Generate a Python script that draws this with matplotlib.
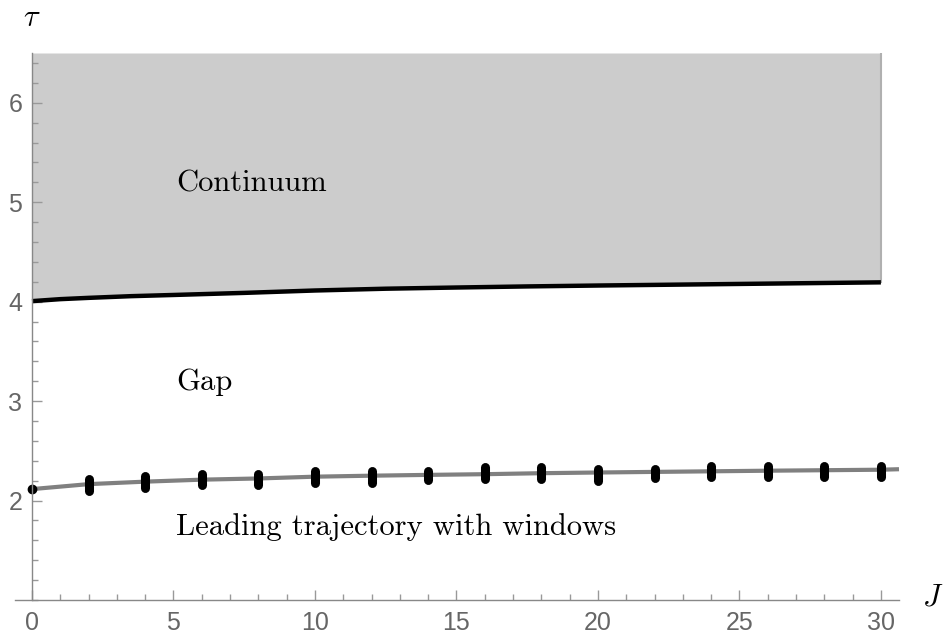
import numpy as np
import matplotlib
matplotlib.use("Agg")
import matplotlib.pyplot as plt
from matplotlib.ticker import MultipleLocator

# ---- data ----
cont_J = [0, 1, 2, 3.5, 5, 7.5, 10, 12.5, 15, 17.5, 20, 22.5, 25, 27.5, 30]
cont_tau = [4.005, 4.025, 4.038, 4.055, 4.067, 4.088, 4.112, 4.13, 4.142, 4.153,
            4.162, 4.17, 4.178, 4.186, 4.194]

lead_J = [0, 2, 4, 6, 8, 10, 12, 14, 16, 18, 20, 22, 24, 26, 28, 30, 30.64]
lead_tau = [2.115, 2.165, 2.19, 2.21, 2.222, 2.24, 2.25, 2.258, 2.265, 2.275,
            2.282, 2.288, 2.294, 2.30, 2.305, 2.31, 2.315]

win_J = [2, 4, 6, 8, 10, 12, 14, 16, 18, 20, 22, 24, 26, 28, 30]
win_lo = [2.10, 2.13, 2.155, 2.155, 2.18, 2.18, 2.21, 2.215, 2.215, 2.20, 2.225,
          2.24, 2.24, 2.24, 2.24]
win_hi = [2.22, 2.245, 2.27, 2.27, 2.30, 2.30, 2.30, 2.335, 2.335, 2.32, 2.32,
          2.35, 2.35, 2.35, 2.35]

point_J = [0]
point_tau = [2.115]

x_ticks = [0, 5, 10, 15, 20, 25, 30]
y_ticks = [2, 3, 4, 5, 6]

fig = plt.figure(figsize=(9.43, 6.34), dpi=100)
W, H = 943, 634
ax = fig.add_axes([15 / W, 34 / H, 884 / W, 547 / H])
ax.set_xlim(-0.6, 30.64)
ax.set_ylim(1.0, 6.5)

# continuum region
cj = np.array(cont_J)
ct = np.array(cont_tau)
ax.fill_between(cj, ct, 6.5, color="#cccccc", lw=0, zorder=1)
ax.plot([30, 30], [ct[-1], 6.5], color="#b0b0b0", lw=1.5, zorder=1.5)
ax.plot(cj, ct, color="black", lw=3.2, zorder=3, solid_capstyle="butt")

# leading trajectory
ax.plot(lead_J, lead_tau, color="#808080", lw=3.0, zorder=3, clip_on=False,
        solid_capstyle="butt")
for j, lo, hi in zip(win_J, win_lo, win_hi):
    ax.plot([j, j], [lo, hi], color="black", lw=6.5, solid_capstyle="round",
            zorder=4, clip_on=False)
ax.plot(point_J, point_tau, "o", color="black", ms=6, zorder=5, clip_on=False)

# axes styling
for s in ["top", "right"]:
    ax.spines[s].set_visible(False)
ax.spines["left"].set_position(("data", 0))
for s in ["left", "bottom"]:
    ax.spines[s].set_color("#888888")
    ax.spines[s].set_linewidth(1.0)
    ax.spines[s].set_zorder(6)

ax.set_xticks(x_ticks)
ax.set_yticks(y_ticks)
ax.xaxis.set_minor_locator(MultipleLocator(1))
ax.yaxis.set_minor_locator(MultipleLocator(0.2))
ax.tick_params(which="both", direction="in", color="#999999", width=1.0,
               labelcolor="#666666", labelsize=18)
ax.tick_params(which="major", length=7)
ax.tick_params(which="minor", length=4)
ax.tick_params(axis="x", which="major", pad=8)
ax.tick_params(axis="y", which="major", pad=7)
for lab in ax.get_xticklabels() + ax.get_yticklabels():
    lab.set_fontfamily("Liberation Sans")

plt.rcParams["mathtext.fontset"] = "cm"

# text labels
ax.text(5.1, 5.11, "Continuum", family="cmr10", fontsize=22, ha="left",
        va="baseline", zorder=6)
ax.text(5.1, 3.115, "Gap", family="cmr10", fontsize=22, ha="left",
        va="baseline", zorder=6)
ax.text(5.1, 1.655, "Leading trajectory with windows", family="cmr10",
        fontsize=22, ha="left", va="baseline", zorder=6)

fig.text(32 / W, 1 - 18 / H, r"$\tau$", fontsize=22, ha="center", va="center")
fig.text(933 / W, 1 - 597 / H, r"$J$", fontsize=22, ha="center", va="center")

fig.savefig("out.png", dpi=100)
